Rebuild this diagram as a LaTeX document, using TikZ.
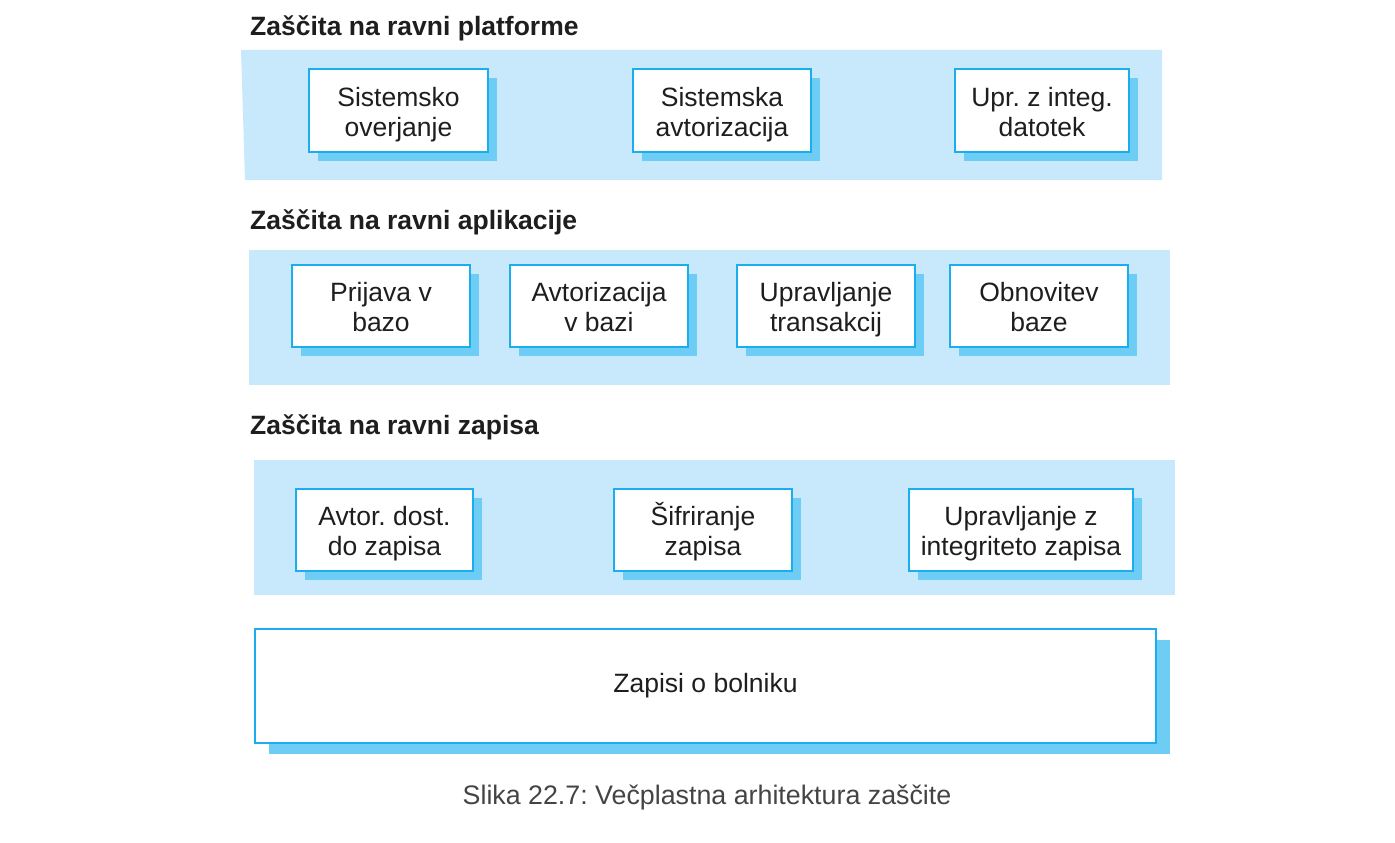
\documentclass[tikz,border=0pt]{standalone}
\usepackage{fontspec}
\setmainfont{Liberation Sans}
\usetikzlibrary{shadows}
\frenchspacing
\definecolor{panelblue}{HTML}{C8E9FB}
\definecolor{boxblue}{HTML}{1AAEEF}
\definecolor{shadowblue}{HTML}{6DCDF5}
\definecolor{captiongray}{HTML}{444444}
\definecolor{textdark}{HTML}{1E1E1E}
\tikzset{
  panel/.style={fill=panelblue, draw=none},
  layertitle/.style={anchor=west, inner sep=0pt, text=textdark, font=\fontsize{26.5}{30}\selectfont\bfseries},
  unitbase/.style={draw=boxblue, line width=2.8pt, fill=white, align=center, text=textdark,
    inner sep=0pt, font=\fontsize{26.5}{30}\selectfont},
  unit/.style={unitbase, text height=58pt, text depth=7pt,
    drop shadow={shadow xshift=9pt, shadow yshift=-9pt, fill=shadowblue, opacity=1}},
  bigunit/.style={unitbase,
    drop shadow={shadow xshift=14pt, shadow yshift=-11pt, fill=shadowblue, opacity=1}},
  caption/.style={inner sep=0pt, text=captiongray, font=\fontsize{26.8}{30}\selectfont}
}
\begin{document}
\begin{tikzpicture}[x=1pt,y=-1pt]
\useasboundingbox (0,0) rectangle (1395,843);
% panels
\fill[panelblue] (241,50) -- (1162,50) -- (1162,180) -- (245,180) -- cycle;
\node[panel, minimum width=921pt, minimum height=135pt, inner sep=0pt] (p2) at (709.5,317.5) {};
\node[panel, minimum width=921pt, minimum height=135pt, inner sep=0pt] (p3) at (714.5,527.5) {};
% titles
\node[layertitle] (t1) at (250,28) {Zaščita na ravni platforme};
\node[layertitle] (t2) at (250,222) {Zaščita na ravni aplikacije};
\node[layertitle] (t3) at (250,427) {Zaščita na ravni zapisa};
% row 1
\node[unit, minimum width=179pt, minimum height=83pt] (b11) at (398.5,110.5) {Sistemsko\\overjanje};
\node[unit, minimum width=178pt, minimum height=83pt] (b12) at (722,110.5) {Sistemska\\avtorizacija};
\node[unit, minimum width=174pt, minimum height=83pt] (b13) at (1042,110.5) {Upr. z integ.\\datotek};
% row 2
\node[unit, minimum width=178pt, minimum height=82pt] (b21) at (381,306) {Prijava v\\bazo};
\node[unit, minimum width=178pt, minimum height=82pt] (b22) at (599,306) {Avtorizacija\\v bazi};
\node[unit, minimum width=178pt, minimum height=82pt] (b23) at (826,306) {Upravljanje\\transakcij};
\node[unit, minimum width=178pt, minimum height=82pt] (b24) at (1039,306) {Obnovitev\\baze};
% row 3
\node[unit, minimum width=177pt, minimum height=82pt] (b31) at (384.5,530) {Avtor. dost.\\do zapisa};
\node[unit, minimum width=178pt, minimum height=82pt] (b32) at (703,530) {Šifriranje\\zapisa};
\node[unit, minimum width=224pt, minimum height=82pt] (b33) at (1021,530) {Upravljanje z\\integriteto zapisa};
% bottom
\node[bigunit, minimum width=901pt, minimum height=114pt] (rec) at (705.5,686) {Zapisi o bolniku};
% caption
\node[caption] (cap) at (707,798) {Slika 22.7: Večplastna arhitektura zaščite};
\end{tikzpicture}
\end{document}
